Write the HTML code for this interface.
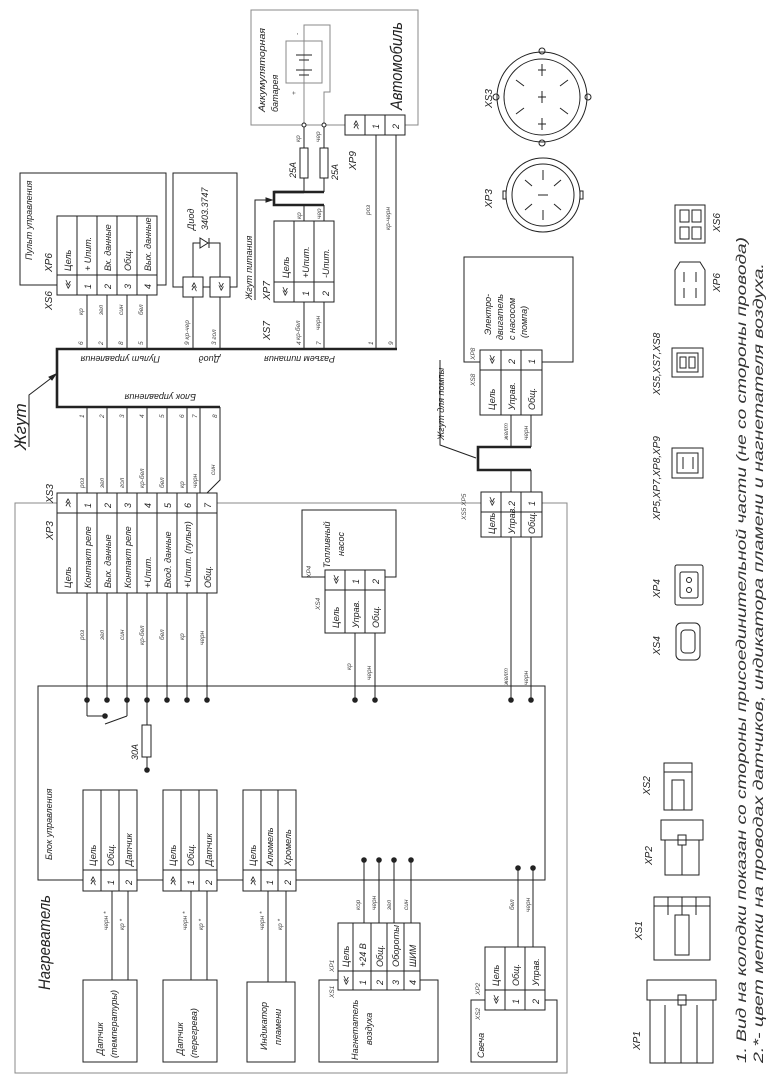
<!DOCTYPE html>
<html><head><meta charset="utf-8"><style>
html,body{margin:0;padding:0;background:#fff;}
svg{display:block}
text{font-family:"Liberation Sans",sans-serif;font-style:italic;fill:#222;font-size:9px}
.s{font-size:6.5px;fill:#444}
.m{font-size:10px}
.b{font-size:17px}
line,rect,path,polyline,circle{stroke:#222;stroke-width:1;fill:none}
.g{stroke:#888}
.t{stroke-width:2.6}
.w{fill:#fff}
.d{fill:#222}
</style></head><body>
<svg width="782" height="1087" viewBox="0 0 782 1087" xmlns="http://www.w3.org/2000/svg">

<!-- Battery / Avtomobil -->
<rect x="251" y="10" width="167" height="115" class="g"/>
<rect x="286" y="41" width="36" height="42" class="g"/>
<polyline points="304,125 304,25 330,25 330,92 324,92 324,125" class="g"/>
<line x1="296" y1="55" x2="312" y2="55"/><line x1="299" y1="60" x2="309" y2="60"/>
<line x1="296" y1="70" x2="312" y2="70"/><line x1="299" y1="75" x2="309" y2="75"/>
<text class="s" transform="translate(299,35) rotate(-90)">-</text>
<text class="s" transform="translate(296,95) rotate(-90)">+</text>
<text transform="translate(265,112) rotate(-90)" textLength="84" lengthAdjust="spacingAndGlyphs">Аккумуляторная</text>
<text transform="translate(278,112) rotate(-90)">батарея</text>
<text class="b" transform="translate(402,110) rotate(-90)" textLength="88" lengthAdjust="spacingAndGlyphs">Автомобиль</text>
<circle cx="304" cy="125" r="2" class="w"/><circle cx="324" cy="125" r="2" class="w"/>
<line x1="304" y1="127" x2="304" y2="192"/><line x1="324" y1="127" x2="324" y2="192"/>
<rect x="300" y="148" width="8" height="30" class="w"/><rect x="320" y="148" width="8" height="30" class="w"/>
<text class="s" transform="translate(300,142) rotate(-90)">кр</text>
<text class="s" transform="translate(320,142) rotate(-90)">чер</text>
<text transform="translate(296,178) rotate(-90)">25А</text>
<text transform="translate(338,180) rotate(-90)">25А</text>
<!-- XP9 -->
<rect x="345" y="115" width="60" height="20" class="w"/>
<line x1="365" y1="115" x2="365" y2="135"/><line x1="385" y1="115" x2="385" y2="135"/>
<text transform="translate(359,130) rotate(-90)">≫</text>
<text transform="translate(379,129) rotate(-90)">1</text>
<text transform="translate(399,129) rotate(-90)">2</text>
<text class="m" transform="translate(356,170) rotate(-90)">XP9</text>
<line x1="376" y1="135" x2="376" y2="349"/><line x1="396" y1="135" x2="396" y2="349"/>
<text class="s" transform="translate(370,215) rotate(-90)">роз</text>
<text class="s" transform="translate(390,230) rotate(-90)">кр-черн</text>

<!-- Power harness -->
<path d="M304,192 L274,192 L274,205 L324,205" class="t"/>
<line x1="274" y1="192" x2="324" y2="192" class="t"/>
<polyline points="255,300 255,200 270,200"/>
<path d="M272,200 l-6,-2 v4 z" class="d"/>
<text transform="translate(252,300) rotate(-90)">Жгут питания</text>
<text class="s" transform="translate(301,219) rotate(-90)">кр</text>
<text class="s" transform="translate(321,219) rotate(-90)">чер</text>
<!-- XS7 -->
<line x1="304" y1="205" x2="304" y2="349"/><line x1="324" y1="205" x2="324" y2="349"/>
<rect x="274" y="221" width="60" height="81" class="w"/>
<line x1="274" y1="282" x2="334" y2="282"/>
<line x1="294" y1="221" x2="294" y2="302"/><line x1="314" y1="221" x2="314" y2="302"/>
<text transform="translate(289,278) rotate(-90)">Цель</text>
<text transform="translate(309,278) rotate(-90)">+Uпит.</text>
<text transform="translate(329,278) rotate(-90)">-Uпит.</text>
<text transform="translate(288,297) rotate(-90)">≪</text>
<text transform="translate(309,296) rotate(-90)">1</text>
<text transform="translate(329,296) rotate(-90)">2</text>
<text class="m" transform="translate(270,300) rotate(-90)">XP7</text>
<text class="m" transform="translate(270,340) rotate(-90)">XS7</text>
<text class="s" transform="translate(300,340) rotate(-90)">кр-бел</text>
<text class="s" transform="translate(320,330) rotate(-90)">черн</text>

<!-- Pult -->
<rect x="20" y="173" width="146" height="112"/>
<text transform="translate(32,260) rotate(-90)">Пульт управления</text>
<rect x="57" y="216" width="100" height="79" class="w"/>
<line x1="57" y1="275" x2="157" y2="275"/>
<line x1="77" y1="216" x2="77" y2="295"/><line x1="97" y1="216" x2="97" y2="295"/><line x1="117" y1="216" x2="117" y2="295"/><line x1="137" y1="216" x2="137" y2="295"/>
<text transform="translate(71,271) rotate(-90)">Цель</text>
<text transform="translate(91,271) rotate(-90)">+ Uпит.</text>
<text transform="translate(111,271) rotate(-90)">Вх. данные</text>
<text transform="translate(131,271) rotate(-90)">Общ.</text>
<text transform="translate(151,271) rotate(-90)">Вых. данные</text>
<text transform="translate(71,290) rotate(-90)">≪</text>
<text transform="translate(91,289) rotate(-90)">1</text><text transform="translate(111,289) rotate(-90)">2</text>
<text transform="translate(131,289) rotate(-90)">3</text><text transform="translate(151,289) rotate(-90)">4</text>
<text class="m" transform="translate(52,272) rotate(-90)">XP6</text>
<text class="m" transform="translate(52,310) rotate(-90)">XS6</text>
<line x1="87" y1="295" x2="87" y2="349"/><line x1="107" y1="295" x2="107" y2="349"/><line x1="127" y1="295" x2="127" y2="349"/><line x1="147" y1="295" x2="147" y2="349"/>
<text class="s" transform="translate(83,315) rotate(-90)">кр</text><text class="s" transform="translate(103,315) rotate(-90)">зел</text>
<text class="s" transform="translate(123,315) rotate(-90)">син</text><text class="s" transform="translate(143,315) rotate(-90)">бел</text>
<text class="s" transform="translate(83,345) rotate(-90)">6</text><text class="s" transform="translate(103,345) rotate(-90)">2</text>
<text class="s" transform="translate(123,345) rotate(-90)">8</text><text class="s" transform="translate(143,345) rotate(-90)">5</text>

<!-- Diode -->
<rect x="173" y="173" width="64" height="114"/>
<polyline points="193,277 193,243 220,243 220,277"/>
<path d="M200,238 L200,248 L208,243 Z" class="w"/><line x1="209" y1="238" x2="209" y2="248"/>
<text transform="translate(194,230) rotate(-90)">Диод</text>
<text transform="translate(208,230) rotate(-90)">3403.3747</text>
<rect x="183" y="277" width="20" height="20" class="w"/><rect x="210" y="277" width="20" height="20" class="w"/>
<text transform="translate(197,292) rotate(-90)">≫</text><text transform="translate(224,292) rotate(-90)">≪</text>
<line x1="193" y1="297" x2="193" y2="349"/><line x1="220" y1="297" x2="220" y2="349"/>
<text class="s" transform="translate(189,345) rotate(-90)">9  кр-чер</text>
<text class="s" transform="translate(216,345) rotate(-90)">3  гол</text>
<text class="s" transform="translate(301,345) rotate(-90)">4</text><text class="s" transform="translate(321,345) rotate(-90)">7</text>
<text class="s" transform="translate(373,345) rotate(-90)">1</text><text class="s" transform="translate(393,345) rotate(-90)">9</text>

<!-- Main harness -->
<path d="M397,349 L57,349 L57,407 L220,407" class="t"/>
<text transform="translate(160,356) rotate(180)">Пульт управления</text>
<text transform="translate(220,356) rotate(180)">Диод</text>
<text transform="translate(335,356) rotate(180)">Разъем питания</text>
<text transform="translate(196,394) rotate(180)">Блок управления</text>
<text class="b" transform="translate(26,450) rotate(-90)">Жгут</text>
<polyline points="29,447 29,395 54,376"/>
<path d="M56,374 l-7,3 l3,3 z" class="d"/>

<!-- wires XP3 up -->
<g>
<line x1="87" y1="407" x2="87" y2="493"/><line x1="107" y1="407" x2="107" y2="493"/><line x1="127" y1="407" x2="127" y2="493"/>
<line x1="147" y1="407" x2="147" y2="493"/><line x1="167" y1="407" x2="167" y2="493"/><line x1="187" y1="407" x2="187" y2="493"/>
<line x1="200" y1="407" x2="200" y2="493"/><polyline points="220,407 220,480 207,493"/>
</g>
<text class="s" transform="translate(84,418) rotate(-90)">1</text><text class="s" transform="translate(104,418) rotate(-90)">2</text>
<text class="s" transform="translate(124,418) rotate(-90)">3</text><text class="s" transform="translate(144,418) rotate(-90)">4</text>
<text class="s" transform="translate(164,418) rotate(-90)">5</text><text class="s" transform="translate(184,418) rotate(-90)">6</text>
<text class="s" transform="translate(197,418) rotate(-90)">7</text><text class="s" transform="translate(217,418) rotate(-90)">8</text>
<text class="s" transform="translate(84,488) rotate(-90)">роз</text><text class="s" transform="translate(104,488) rotate(-90)">зел</text>
<text class="s" transform="translate(124,488) rotate(-90)">гол</text><text class="s" transform="translate(144,488) rotate(-90)">кр-бел</text>
<text class="s" transform="translate(164,488) rotate(-90)">бел</text><text class="s" transform="translate(184,488) rotate(-90)">кр</text>
<text class="s" transform="translate(197,488) rotate(-90)">черн</text><text class="s" transform="translate(215,475) rotate(-90)">син</text>

<!-- Heater outer box -->
<rect x="15" y="503" width="552" height="570" class="g"/>
<text class="b" transform="translate(50,990) rotate(-90)" textLength="95" lengthAdjust="spacingAndGlyphs">Нагреватель</text>

<!-- XP3 table -->
<rect x="57" y="493" width="160" height="100" class="w"/>
<line x1="57" y1="513" x2="217" y2="513"/>
<g>
<line x1="77" y1="493" x2="77" y2="593"/><line x1="97" y1="493" x2="97" y2="593"/><line x1="117" y1="493" x2="117" y2="593"/>
<line x1="137" y1="493" x2="137" y2="593"/><line x1="157" y1="493" x2="157" y2="593"/><line x1="177" y1="493" x2="177" y2="593"/><line x1="197" y1="493" x2="197" y2="593"/>
</g>
<text transform="translate(71,508) rotate(-90)">≫</text>
<text transform="translate(91,508) rotate(-90)">1</text><text transform="translate(111,508) rotate(-90)">2</text>
<text transform="translate(131,508) rotate(-90)">3</text><text transform="translate(151,508) rotate(-90)">4</text>
<text transform="translate(171,508) rotate(-90)">5</text><text transform="translate(191,508) rotate(-90)">6</text>
<text transform="translate(211,508) rotate(-90)">7</text>
<text transform="translate(71,588) rotate(-90)">Цель</text>
<text transform="translate(91,588) rotate(-90)">Контакт реле</text>
<text transform="translate(111,588) rotate(-90)">Вых. данные</text>
<text transform="translate(131,588) rotate(-90)">Контакт реле</text>
<text transform="translate(151,588) rotate(-90)">+Uпит.</text>
<text transform="translate(171,588) rotate(-90)">Вход. данные</text>
<text transform="translate(191,588) rotate(-90)">+Uпит. (пульт)</text>
<text transform="translate(211,588) rotate(-90)">Общ.</text>
<text class="m" transform="translate(53,503) rotate(-90)">XS3</text>
<text class="m" transform="translate(53,540) rotate(-90)">XP3</text>
<g>
<line x1="87" y1="593" x2="87" y2="716"/><line x1="107" y1="593" x2="107" y2="700"/><line x1="127" y1="593" x2="127" y2="716"/>
<line x1="147" y1="593" x2="147" y2="770"/><line x1="167" y1="593" x2="167" y2="700"/><line x1="187" y1="593" x2="187" y2="700"/><line x1="207" y1="593" x2="207" y2="700"/>
</g>
<text class="s" transform="translate(84,640) rotate(-90)">роз</text><text class="s" transform="translate(104,640) rotate(-90)">зел</text>
<text class="s" transform="translate(124,640) rotate(-90)">син</text><text class="s" transform="translate(144,645) rotate(-90)">кр-бел</text>
<text class="s" transform="translate(164,640) rotate(-90)">бел</text><text class="s" transform="translate(184,640) rotate(-90)">кр</text>
<text class="s" transform="translate(204,645) rotate(-90)">черн</text>

<!-- Inner control box -->
<rect x="38" y="686" width="507" height="194"/>
<text transform="translate(52,860) rotate(-90)">Блок управления</text>
<g class="d">
<circle cx="87" cy="700" r="2.3" class="d"/><circle cx="107" cy="700" r="2.3" class="d"/><circle cx="127" cy="700" r="2.3" class="d"/>
<circle cx="147" cy="700" r="2.3" class="d"/><circle cx="167" cy="700" r="2.3" class="d"/><circle cx="187" cy="700" r="2.3" class="d"/>
<circle cx="207" cy="700" r="2.3" class="d"/><circle cx="147" cy="770" r="2.3" class="d"/><circle cx="105" cy="716" r="2.3" class="d"/>
<circle cx="355" cy="700" r="2.3" class="d"/><circle cx="375" cy="700" r="2.3" class="d"/>
<circle cx="511" cy="700" r="2.3" class="d"/><circle cx="531" cy="700" r="2.3" class="d"/>
<circle cx="364" cy="860" r="2.3" class="d"/><circle cx="379" cy="860" r="2.3" class="d"/><circle cx="394" cy="860" r="2.3" class="d"/><circle cx="411" cy="860" r="2.3" class="d"/>
<circle cx="518" cy="868" r="2.3" class="d"/><circle cx="533" cy="868" r="2.3" class="d"/>
</g>
<line x1="87" y1="716" x2="105" y2="716"/>
<line x1="105" y1="724" x2="127" y2="716"/>
<rect x="142" y="725" width="9" height="32" class="w"/>
<text transform="translate(138,760) rotate(-90)">30А</text>

<!-- sensor tables -->
<g>
<rect x="83" y="790" width="54" height="101" class="w"/><line x1="83" y1="870" x2="137" y2="870"/>
<line x1="101" y1="790" x2="101" y2="891"/><line x1="119" y1="790" x2="119" y2="891"/>
<text transform="translate(96,866) rotate(-90)">Цель</text><text transform="translate(114,866) rotate(-90)">Общ.</text><text transform="translate(132,866) rotate(-90)">Датчик</text>
<text transform="translate(96,886) rotate(-90)">≫</text><text transform="translate(114,885) rotate(-90)">1</text><text transform="translate(132,885) rotate(-90)">2</text>
<line x1="112" y1="891" x2="112" y2="980"/><line x1="128" y1="891" x2="128" y2="980"/>
<text class="s" transform="translate(108,930) rotate(-90)">черн *</text><text class="s" transform="translate(124,930) rotate(-90)">кр *</text>
<rect x="83" y="980" width="54" height="82"/>
<text transform="translate(103,1055) rotate(-90)">Датчик</text><text transform="translate(117,1058) rotate(-90)">(температуры)</text>
</g>
<g>
<rect x="163" y="790" width="54" height="101" class="w"/><line x1="163" y1="870" x2="217" y2="870"/>
<line x1="181" y1="790" x2="181" y2="891"/><line x1="199" y1="790" x2="199" y2="891"/>
<text transform="translate(176,866) rotate(-90)">Цель</text><text transform="translate(194,866) rotate(-90)">Общ.</text><text transform="translate(212,866) rotate(-90)">Датчик</text>
<text transform="translate(176,886) rotate(-90)">≫</text><text transform="translate(194,885) rotate(-90)">1</text><text transform="translate(212,885) rotate(-90)">2</text>
<line x1="191" y1="891" x2="191" y2="980"/><line x1="207" y1="891" x2="207" y2="980"/>
<text class="s" transform="translate(187,930) rotate(-90)">черн *</text><text class="s" transform="translate(203,930) rotate(-90)">кр *</text>
<rect x="163" y="980" width="54" height="82"/>
<text transform="translate(183,1055) rotate(-90)">Датчик</text><text transform="translate(197,1058) rotate(-90)">(перегрева)</text>
</g>
<g>
<rect x="243" y="790" width="53" height="101" class="w"/><line x1="243" y1="870" x2="296" y2="870"/>
<line x1="261" y1="790" x2="261" y2="891"/><line x1="278" y1="790" x2="278" y2="891"/>
<text transform="translate(256,866) rotate(-90)">Цель</text><text transform="translate(273,866) rotate(-90)">Алюмель</text><text transform="translate(291,866) rotate(-90)">Хромель</text>
<text transform="translate(256,886) rotate(-90)">≫</text><text transform="translate(273,885) rotate(-90)">1</text><text transform="translate(291,885) rotate(-90)">2</text>
<line x1="268" y1="891" x2="268" y2="982"/><line x1="286" y1="891" x2="286" y2="982"/>
<text class="s" transform="translate(264,930) rotate(-90)">черн *</text><text class="s" transform="translate(282,930) rotate(-90)">кр *</text>
<rect x="247" y="982" width="48" height="80"/>
<text transform="translate(267,1050) rotate(-90)">Индикатор</text><text transform="translate(281,1045) rotate(-90)">пламени</text>
</g>

<!-- XS1 -->
<rect x="319" y="980" width="119" height="82"/>
<line x1="364" y1="860" x2="364" y2="923"/><line x1="379" y1="860" x2="379" y2="923"/><line x1="394" y1="860" x2="394" y2="923"/><line x1="411" y1="860" x2="411" y2="923"/>
<text class="s" transform="translate(360,910) rotate(-90)">кор</text><text class="s" transform="translate(376,910) rotate(-90)">черн</text>
<text class="s" transform="translate(391,910) rotate(-90)">зел</text><text class="s" transform="translate(408,910) rotate(-90)">син</text>
<rect x="338" y="923" width="82" height="67" class="w"/><line x1="338" y1="971" x2="420" y2="971"/>
<line x1="353" y1="923" x2="353" y2="990"/><line x1="371" y1="923" x2="371" y2="990"/><line x1="387" y1="923" x2="387" y2="990"/><line x1="404" y1="923" x2="404" y2="990"/>
<text transform="translate(349,967) rotate(-90)">Цель</text><text transform="translate(366,967) rotate(-90)">+24 В</text>
<text transform="translate(383,967) rotate(-90)">Общ.</text><text transform="translate(399,967) rotate(-90)" textLength="42" lengthAdjust="spacingAndGlyphs">Обороты</text>
<text transform="translate(416,967) rotate(-90)">ШИМ</text>
<text transform="translate(349,986) rotate(-90)">≪</text><text transform="translate(366,985) rotate(-90)">1</text>
<text transform="translate(383,985) rotate(-90)">2</text><text transform="translate(399,985) rotate(-90)">3</text><text transform="translate(416,985) rotate(-90)">4</text>
<text class="s" transform="translate(334,998) rotate(-90)">XS1</text><text class="s" transform="translate(334,972) rotate(-90)">XP1</text>
<text transform="translate(358,1060) rotate(-90)">Нагнетатель</text><text transform="translate(372,1045) rotate(-90)">воздуха</text>

<!-- XS2 Svecha -->
<line x1="518" y1="868" x2="518" y2="947"/><line x1="533" y1="868" x2="533" y2="947"/>
<text class="s" transform="translate(514,910) rotate(-90)">бел</text><text class="s" transform="translate(530,912) rotate(-90)">черн</text>
<rect x="471" y="1000" width="86" height="62"/>
<rect x="485" y="947" width="60" height="63" class="w"/><line x1="485" y1="990" x2="545" y2="990"/>
<line x1="505" y1="947" x2="505" y2="1010"/><line x1="525" y1="947" x2="525" y2="1010"/>
<text transform="translate(499,986) rotate(-90)">Цель</text><text transform="translate(519,986) rotate(-90)">Общ.</text><text transform="translate(539,986) rotate(-90)">Управ.</text>
<text transform="translate(499,1005) rotate(-90)">≪</text><text transform="translate(519,1004) rotate(-90)">1</text><text transform="translate(539,1004) rotate(-90)">2</text>
<text class="s" transform="translate(480,1020) rotate(-90)">XS2</text><text class="s" transform="translate(480,995) rotate(-90)">XP2</text>
<text transform="translate(484,1058) rotate(-90)">Свеча</text>

<!-- Fuel pump XS4 -->
<rect x="302" y="510" width="94" height="67"/>
<text transform="translate(330,568) rotate(-90)">Топливный</text><text transform="translate(344,556) rotate(-90)">насос</text>
<text class="s" transform="translate(311,578) rotate(-90)">XP4</text>
<text class="s" transform="translate(320,610) rotate(-90)">XS4</text>
<rect x="325" y="570" width="60" height="63" class="w"/><line x1="325" y1="590" x2="385" y2="590"/>
<line x1="345" y1="570" x2="345" y2="633"/><line x1="365" y1="570" x2="365" y2="633"/>
<text transform="translate(339,585) rotate(-90)">≪</text><text transform="translate(359,584) rotate(-90)">1</text><text transform="translate(379,584) rotate(-90)">2</text>
<text transform="translate(339,628) rotate(-90)">Цель</text><text transform="translate(359,628) rotate(-90)">Управ.</text><text transform="translate(379,628) rotate(-90)">Общ.</text>
<line x1="355" y1="633" x2="355" y2="700"/><line x1="375" y1="633" x2="375" y2="700"/>
<text class="s" transform="translate(351,670) rotate(-90)">кр</text><text class="s" transform="translate(371,680) rotate(-90)">черн</text>

<!-- Pump XS8 / XS5 -->
<rect x="464" y="257" width="109" height="105"/>
<text transform="translate(491,335) rotate(-90)">Электро-</text><text transform="translate(503,340) rotate(-90)">двигатель</text>
<text transform="translate(515,340) rotate(-90)">с насосом</text><text transform="translate(527,338) rotate(-90)">(помпа)</text>
<text class="s" transform="translate(475,360) rotate(-90)">XP8</text><text class="s" transform="translate(475,386) rotate(-90)">XS8</text>
<rect x="480" y="350" width="62" height="65" class="w"/><line x1="480" y1="370" x2="542" y2="370"/>
<line x1="501" y1="350" x2="501" y2="415"/><line x1="521" y1="350" x2="521" y2="415"/>
<text transform="translate(495,365) rotate(-90)">≪</text><text transform="translate(515,364) rotate(-90)">2</text><text transform="translate(535,364) rotate(-90)">1</text>
<text transform="translate(495,410) rotate(-90)">Цель</text><text transform="translate(515,410) rotate(-90)">Управ.</text><text transform="translate(535,410) rotate(-90)">Общ.</text>
<line x1="511" y1="415" x2="511" y2="447"/><line x1="531" y1="415" x2="531" y2="447"/>
<text class="s" transform="translate(508,440) rotate(-90)">желт</text><text class="s" transform="translate(528,440) rotate(-90)">черн</text>
<path d="M531,447 L478,447 L478,470 L531,470" class="t"/>
<text transform="translate(444,440) rotate(-90)">Жгут для помпы</text>
<polyline points="440,360 440,445 476,458"/>
<line x1="511" y1="470" x2="511" y2="492"/><line x1="531" y1="470" x2="531" y2="492"/>
<rect x="481" y="492" width="61" height="45" class="w"/><line x1="481" y1="512" x2="542" y2="512"/>
<line x1="501" y1="492" x2="501" y2="537"/><line x1="521" y1="492" x2="521" y2="537"/>
<text transform="translate(495,507) rotate(-90)">≪</text><text transform="translate(515,506) rotate(-90)">2</text><text transform="translate(535,506) rotate(-90)">1</text>
<text transform="translate(495,534) rotate(-90)">Цель</text><text transform="translate(515,534) rotate(-90)">Управ.</text><text transform="translate(535,534) rotate(-90)">Общ.</text>
<text class="s" transform="translate(466,520) rotate(-90)">XS5 XP5</text>
<line x1="511" y1="537" x2="511" y2="700"/><line x1="531" y1="537" x2="531" y2="700"/>
<text class="s" transform="translate(508,685) rotate(-90)">желт</text><text class="s" transform="translate(528,685) rotate(-90)">черн</text>

<!-- round connectors -->
<circle cx="542" cy="97" r="45"/><circle cx="542" cy="97" r="38"/>
<circle cx="542" cy="51" r="3"/><circle cx="542" cy="143" r="3"/><circle cx="496" cy="97" r="3"/><circle cx="588" cy="97" r="3"/>
<path d="M538,70 h8 M542,64 v12 M538,97 h8 M542,91 v12 M538,124 h8 M542,118 v12 M516,80 l8,6 M516,114 l8,-6 M568,80 l-8,6 M568,114 l-8,-6"/>
<text class="m" transform="translate(492,108) rotate(-90)">XS3</text>
<circle cx="543" cy="195" r="37"/><circle cx="543" cy="195" r="31"/>
<path d="M543,170 v10 M543,210 v10 M525,180 l7,6 M561,180 l-7,6 M525,210 l7,-6 M561,210 l-7,-6 M538,195 h10"/>
<rect x="503" y="191" width="3" height="8"/><rect x="580" y="191" width="3" height="8"/>
<text class="m" transform="translate(492,208) rotate(-90)">XP3</text>

<!-- right column connector views -->
<rect x="675" y="205" width="30" height="38"/>
<rect x="680" y="210" width="9" height="12"/><rect x="692" y="210" width="9" height="12"/><rect x="680" y="227" width="9" height="12"/><rect x="692" y="227" width="9" height="12"/>
<text class="m" transform="translate(720,232) rotate(-90)">XS6</text>
<path d="M680,262 L700,262 L705,270 L705,305 L675,305 L675,270 Z"/>
<line x1="684" y1="272" x2="684" y2="282"/><line x1="696" y1="272" x2="696" y2="282"/><line x1="684" y1="288" x2="684" y2="298"/><line x1="696" y1="288" x2="696" y2="298"/>
<text class="m" transform="translate(720,292) rotate(-90)">XP6</text>
<rect x="672" y="348" width="31" height="29"/><rect x="677" y="353" width="21" height="19"/>
<rect x="680" y="357" width="6" height="11"/><rect x="689" y="357" width="6" height="11"/>
<text class="m" transform="translate(660,395) rotate(-90)">XS5,XS7,XS8</text>
<rect x="672" y="448" width="31" height="30"/><rect x="677" y="453" width="21" height="20"/>
<line x1="683" y1="457" x2="683" y2="469"/><line x1="693" y1="457" x2="693" y2="469"/>
<text class="m" transform="translate(660,520) rotate(-90)">XP5,XP7,XP8,XP9</text>
<rect x="675" y="565" width="28" height="40" rx="2"/><rect x="680" y="572" width="18" height="26" rx="2"/>
<circle cx="689" cy="580" r="2.5"/><circle cx="689" cy="590" r="2.5"/>
<text class="m" transform="translate(660,598) rotate(-90)">XP4</text>
<rect x="676" y="623" width="24" height="37" rx="5"/><rect x="681" y="630" width="14" height="23" rx="4"/>
<text class="m" transform="translate(660,655) rotate(-90)">XS4</text>
<rect x="664" y="763" width="28" height="47"/><line x1="664" y1="772" x2="692" y2="772"/><rect x="672" y="780" width="12" height="30"/>
<text class="m" transform="translate(650,795) rotate(-90)">XS2</text>
<rect x="661" y="820" width="42" height="20"/><rect x="678" y="835" width="8" height="10"/><rect x="665" y="840" width="34" height="35"/>
<line x1="682" y1="845" x2="682" y2="875"/>
<text class="m" transform="translate(652,865) rotate(-90)">XP2</text>
<rect x="654" y="897" width="56" height="63"/><line x1="654" y1="906" x2="710" y2="906"/>
<line x1="668" y1="897" x2="668" y2="915"/><line x1="682" y1="897" x2="682" y2="915"/><line x1="696" y1="897" x2="696" y2="915"/>
<rect x="675" y="915" width="14" height="40"/>
<text class="m" transform="translate(642,940) rotate(-90)">XS1</text>
<rect x="647" y="980" width="69" height="20"/><rect x="678" y="995" width="8" height="10"/>
<rect x="650" y="1000" width="63" height="63"/>
<line x1="665" y1="1005" x2="665" y2="1063"/><line x1="681" y1="1005" x2="681" y2="1063"/><line x1="697" y1="1005" x2="697" y2="1063"/>
<text class="m" transform="translate(640,1050) rotate(-90)">XP1</text>

<!-- notes -->
<text style="font-size:14px;fill:#333" textLength="826" lengthAdjust="spacingAndGlyphs" transform="translate(746,1063) rotate(-90)">1. Вид на колодки показан со стороны присоединительной части (не со стороны провода)</text>
<text style="font-size:14px;fill:#333" textLength="800" lengthAdjust="spacingAndGlyphs" transform="translate(763,1063) rotate(-90)">2.*- цвет метки на проводах датчиков, индикатора пламени и нагнетателя воздуха.</text>
</svg>
</body></html>
